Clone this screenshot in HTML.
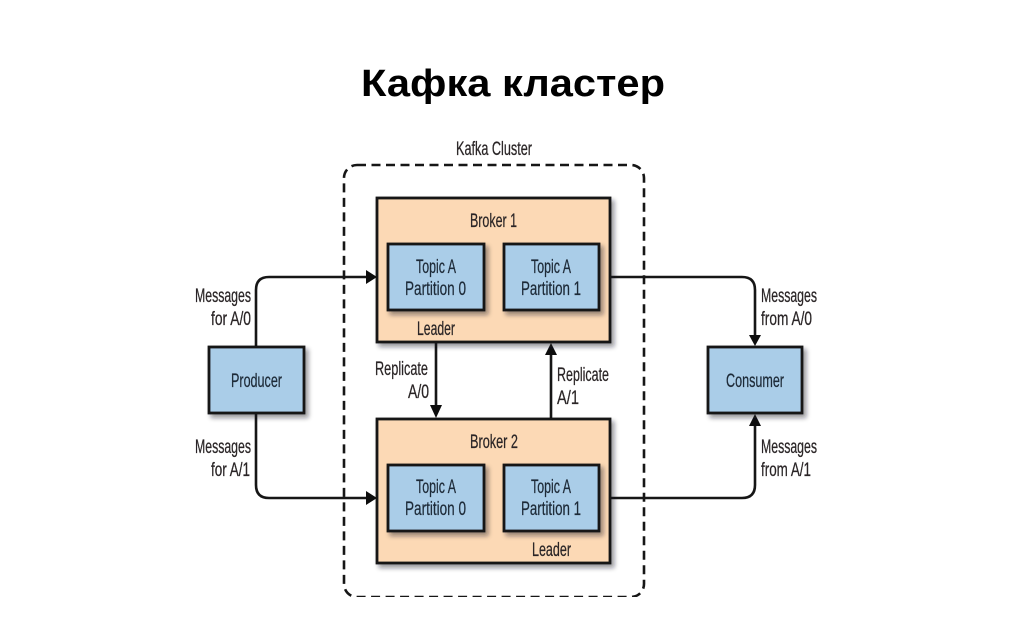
<!DOCTYPE html>
<html>
<head>
<meta charset="utf-8">
<style>
html,body{margin:0;padding:0;background:#fff;width:1024px;height:638px;overflow:hidden}
svg{display:block}
text{font-family:"Liberation Sans",sans-serif;fill:#2a2526;font-size:19px;stroke:#2a2526;stroke-width:0.25}
.t{font-size:38px;font-weight:bold;fill:#000;stroke:none}
.box{stroke:#151515;stroke-width:2.8;filter:url(#sh)}
.line{fill:none;stroke:#151515;stroke-width:2.6}
.in{fill:#1f2b38;stroke:#1f2b38}
.soft{filter:url(#soft)}
</style>
</head>
<body>
<svg width="1024" height="638" viewBox="0 0 1024 638" xmlns="http://www.w3.org/2000/svg">
<defs>
<filter id="sh" x="-15%" y="-15%" width="130%" height="130%">
<feDropShadow dx="3" dy="3.5" stdDeviation="2.4" flood-color="#1a1a22" flood-opacity="0.45"/>
</filter>
<filter id="soft" x="0" y="0" width="100%" height="100%">
<feGaussianBlur stdDeviation="0.35"/>
</filter>
</defs>

<text class="t" x="361" y="96" textLength="304" lengthAdjust="spacingAndGlyphs">Кафка кластер</text>

<g class="soft">
<text x="456" y="155" textLength="76" lengthAdjust="spacingAndGlyphs">Kafka Cluster</text>
<rect x="344" y="165" width="300" height="432" rx="13" fill="none" stroke="#151515" stroke-width="2.6" stroke-dasharray="9 5.5"/>

<!-- connectors -->
<path class="line" d="M256 347V290Q256 277 269 277H368"/>
<path d="M366 270L377 277L366 284Z" fill="#111"/>
<path class="line" d="M256 413V485Q256 498 269 498H368"/>
<path d="M366 491L377 498L366 505Z" fill="#111"/>
<path class="line" d="M610 277H742Q755 277 755 290V338"/>
<path d="M749 335H761L755 346Z" fill="#111"/>
<path class="line" d="M610 498H742Q755 498 755 485V422"/>
<path d="M749 426H761L755 414Z" fill="#111"/>
<path class="line" d="M436 342V410"/>
<path d="M430 405H442L436 418Z" fill="#111"/>
<path class="line" d="M551 419V352"/>
<path d="M545 355H557L551 343Z" fill="#111"/>

<!-- brokers -->
<rect class="box" x="377" y="198" width="233" height="144" fill="#fcd9b5"/>
<rect class="box" x="377" y="419" width="233" height="144" fill="#fcd9b5"/>

<!-- topics -->
<rect class="box" x="388" y="244" width="96" height="66" fill="#aacde8"/>
<rect class="box" x="504" y="244" width="95" height="66" fill="#aacde8"/>
<rect class="box" x="388" y="465" width="96" height="66" fill="#aacde8"/>
<rect class="box" x="504" y="465" width="95" height="66" fill="#aacde8"/>

<!-- producer / consumer -->
<rect class="box" x="209" y="347" width="95" height="66" fill="#aacde8"/>
<rect class="box" x="708" y="347" width="94" height="66" fill="#aacde8"/>

<!-- broker 1 labels -->
<text x="470" y="227" textLength="47" lengthAdjust="spacingAndGlyphs">Broker 1</text>
<text class="in" x="416" y="273" textLength="40" lengthAdjust="spacingAndGlyphs">Topic A</text>
<text class="in" x="405" y="295" textLength="61" lengthAdjust="spacingAndGlyphs">Partition 0</text>
<text class="in" x="531" y="273" textLength="40" lengthAdjust="spacingAndGlyphs">Topic A</text>
<text class="in" x="521" y="295" textLength="60" lengthAdjust="spacingAndGlyphs">Partition 1</text>
<text x="417" y="335" textLength="38" lengthAdjust="spacingAndGlyphs">Leader</text>

<!-- broker 2 labels -->
<text x="470" y="448" textLength="48" lengthAdjust="spacingAndGlyphs">Broker 2</text>
<text class="in" x="416" y="493" textLength="40" lengthAdjust="spacingAndGlyphs">Topic A</text>
<text class="in" x="405" y="515" textLength="61" lengthAdjust="spacingAndGlyphs">Partition 0</text>
<text class="in" x="531" y="493" textLength="40" lengthAdjust="spacingAndGlyphs">Topic A</text>
<text class="in" x="521" y="515" textLength="60" lengthAdjust="spacingAndGlyphs">Partition 1</text>
<text x="532" y="556" textLength="39" lengthAdjust="spacingAndGlyphs">Leader</text>

<!-- replicate -->
<text x="375" y="375" textLength="53" lengthAdjust="spacingAndGlyphs">Replicate</text>
<text x="408" y="398" textLength="21" lengthAdjust="spacingAndGlyphs">A/0</text>
<text x="557" y="381" textLength="52" lengthAdjust="spacingAndGlyphs">Replicate</text>
<text x="557" y="404" textLength="22" lengthAdjust="spacingAndGlyphs">A/1</text>

<!-- producer side -->
<text class="in" x="231" y="387" textLength="51" lengthAdjust="spacingAndGlyphs">Producer</text>
<text x="195" y="302" textLength="56" lengthAdjust="spacingAndGlyphs">Messages</text>
<text x="211" y="325" textLength="40" lengthAdjust="spacingAndGlyphs">for A/0</text>
<text x="195" y="453" textLength="56" lengthAdjust="spacingAndGlyphs">Messages</text>
<text x="211" y="476" textLength="39" lengthAdjust="spacingAndGlyphs">for A/1</text>

<!-- consumer side -->
<text class="in" x="726" y="387" textLength="58" lengthAdjust="spacingAndGlyphs">Consumer</text>
<text x="761" y="302" textLength="56" lengthAdjust="spacingAndGlyphs">Messages</text>
<text x="761" y="325" textLength="51" lengthAdjust="spacingAndGlyphs">from A/0</text>
<text x="761" y="453" textLength="56" lengthAdjust="spacingAndGlyphs">Messages</text>
<text x="761" y="476" textLength="50" lengthAdjust="spacingAndGlyphs">from A/1</text>
</g>
</svg>
</body>
</html>
